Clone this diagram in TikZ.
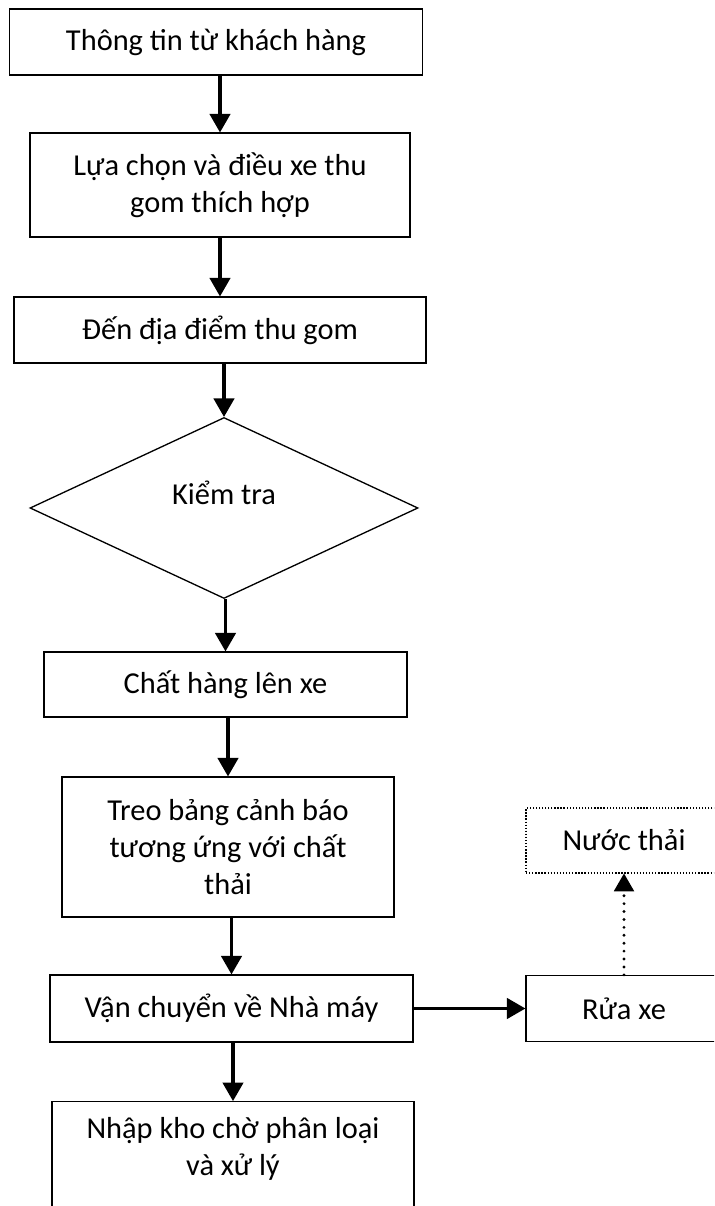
\documentclass[tikz,border=0pt]{standalone}
\usepackage{fontspec}
\setmainfont{Carlito}
\usetikzlibrary{arrows}
\usetikzlibrary{shapes.geometric}

\begin{document}
\begin{tikzpicture}[
  box/.style={draw, line width=0.75pt, align=center, inner sep=0pt},
  decision/.style={draw, diamond, line width=0.75pt, inner sep=0pt},
  flow/.style={->, >=triangle 60, line width=1.9pt},
  seep/.style={->, >=triangle 60, line width=1.8pt, dash pattern=on 0pt off 4.5pt, line cap=round},
  every node/.style={font=\fontsize{17.3}{21}\selectfont}
]
\clip (0,0) rectangle (14.28,24.12);

% main line
\node[box, minimum width=8.27cm, minimum height=1.32cm] (info) at (4.32,23.28) {Thông tin từ khách hàng};
\node[box, minimum width=7.6cm, minimum height=2.08cm] (choose) at (4.40,20.42) {Lựa chọn và điều xe thu\\gom thích hợp};
\node[box, minimum width=8.24cm, minimum height=1.32cm] (site) at (4.40,17.52) {Đến địa điểm thu gom};
\node[decision, minimum width=7.76cm, minimum height=3.62cm, label={[yshift=0.3cm]center:Kiểm tra}] (check) at (4.48,13.96) {};
\node[box, minimum width=7.26cm, minimum height=1.30cm] (load) at (4.51,10.43) {Chất hàng lên xe};
\node[box, minimum width=6.64cm, minimum height=2.80cm] (sign) at (4.56,7.18) {Treo bảng cảnh báo\\tương ứng với chất\\thải};
\node[box, minimum width=7.26cm, minimum height=1.34cm] (transport) at (4.63,3.95) {Vận chuyển về Nhà máy};
\node[box, anchor=north, minimum width=7.24cm, inner ysep=0.32cm, text depth=3cm] (store) at (4.66,2.10) {Nhập kho chờ phân loại\\và xử lý};

% side line
\node[box, minimum width=3.92cm, minimum height=1.32cm] (wash) at (12.48,3.95) {Rửa xe};
\node[box, densely dotted, line width=0.6pt, minimum width=3.92cm, minimum height=1.30cm] (water) at (12.48,7.31) {Nước thải};

\draw[flow] (info.south -| choose.north) -- (choose.north);
\draw[flow] (choose.south -| site.north) -- (site.north);
\draw[flow] (site.south -| check.north) -- (check.north);
\draw[flow] (check.south -| load.north) -- (load.north);
\draw[flow] (load.south -| sign.north) -- (sign.north);
\draw[flow] (sign.south -| transport.north) -- (transport.north);
\draw[flow] (transport.south -| store.north) -- (store.north);
\draw[flow] (transport.east) -- (wash.west);
\draw[seep] (wash.north) -- (water.south);

\end{tikzpicture}
\end{document}
